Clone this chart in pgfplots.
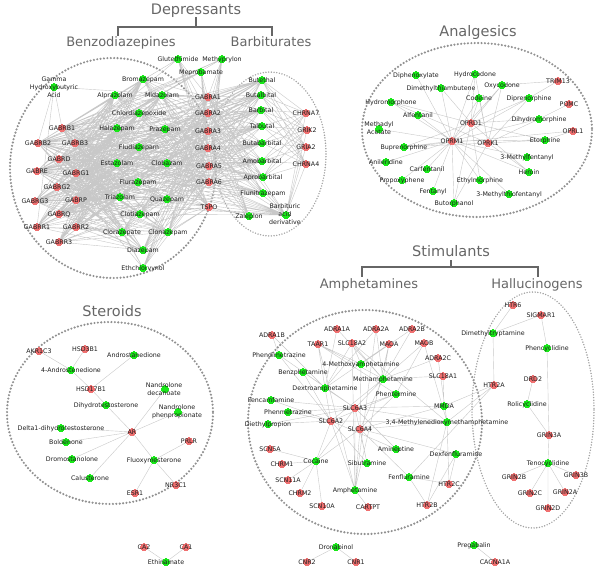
\documentclass[border=0pt]{standalone}
\usepackage{pgfplots}
\pgfplotsset{compat=1.18}
\usepackage{fontspec}
\setmainfont{DejaVu Sans}
\definecolor{ngreen}{RGB}{25,232,25}
\definecolor{nred}{RGB}{240,112,112}
\definecolor{edgec}{RGB}{200,200,200}
\definecolor{ttl}{RGB}{102,102,102}
\definecolor{dotc}{RGB}{145,145,145}

\makeatletter
\gdef\greenpts{}\gdef\redpts{}\gdef\labels{}\gdef\edgelist{}
% \N{id}{x}{y}{g/r}{label}
\newcommand\N[5]{%
 \expandafter\gdef\csname nd@#1\endcsname{#2,#3}%
 \if#4g\xdef\greenpts{\greenpts(#2,#3)}\else\xdef\redpts{\redpts(#2,#3)}\fi
 \g@addto@macro\labels{\node[lbl] at (#2,#3) {#5};}}
% multi-line label: \NM{id}{x}{y}{g/r}{lx}{ly}{label}
\newcommand\NM[7]{%
 \expandafter\gdef\csname nd@#1\endcsname{#2,#3}%
 \if#4g\xdef\greenpts{\greenpts(#2,#3)}\else\xdef\redpts{\redpts(#2,#3)}\fi
 \g@addto@macro\labels{\node[lblm] at (#5,#6) {#7};}}
\newcommand\E[2]{\xdef\edgelist{\edgelist(\csname nd@#1\endcsname)(\csname nd@#2\endcsname)(nan,nan)}}
\newcommand\EE[2]{\foreach\a in {#1}{\foreach\b in {#2}{\E{\a}{\b}}}}
\makeatother

% ---------------- Depressants ----------------
\N{glut}{178}{59}{g}{Glutethimide}
\N{methyp}{222}{59}{g}{Methyprylon}
\N{mepro}{201}{72}{g}{Meprobamate}
\NM{ghb}{54}{87}{g}{54}{87}{Gamma\\Hydroxybutyric\\Acid}
\N{broma}{143}{79}{g}{Bromazepam}
\N{alpra}{115}{95}{g}{Alprazolam}
\N{mida}{162}{95}{g}{Midazolam}
\N{chlord}{139}{113}{g}{Chlordiazepoxide}
\N{ga1}{208}{97}{r}{GABRA1}
\N{ga2}{208}{113}{r}{GABRA2}
\N{gb1}{62}{128}{r}{GABRB1}
\N{hala}{117}{128}{g}{Halazepam}
\N{praz}{165}{129}{g}{Prazepam}
\N{ga3}{208}{131}{r}{GABRA3}
\N{gb2}{38}{143}{r}{GABRB2}
\N{gb3}{75}{143}{r}{GABRB3}
\N{fludi}{139}{147}{g}{Fludiazepam}
\N{ga4}{208}{148}{r}{GABRA4}
\N{gd}{59}{159}{r}{GABRD}
\N{esta}{117}{163}{g}{Estazolam}
\N{clob}{167}{163}{g}{Clobazam}
\N{ga5}{209}{166}{r}{GABRA5}
\N{ge}{37}{171}{r}{GABRE}
\N{gg1}{76}{173}{r}{GABRG1}
\N{ga6}{209}{182}{r}{GABRA6}
\N{flura}{138}{182}{g}{Flurazepam}
\N{gg2}{57}{187}{r}{GABRG2}
\N{gg3}{35}{201}{r}{GABRG3}
\N{gp}{76}{200}{r}{GABRP}
\N{tria}{120}{197}{g}{Triazolam}
\N{quaz}{167}{199}{g}{Quazepam}
\N{tspo}{209}{207}{r}{TSPO}
\N{gq}{59}{214}{r}{GABRQ}
\N{clot}{140}{214}{g}{Clotiazepam}
\N{gr1}{37}{227}{r}{GABRR1}
\N{gr2}{76}{227}{r}{GABRR2}
\N{clorz}{122}{232}{g}{Clorazepate}
\N{clon}{168}{232}{g}{Clonazepam}
\N{gr3}{59}{242}{r}{GABRR3}
\N{diaz}{143}{250}{g}{Diazepam}
\N{ethc}{143}{268}{g}{Ethchlorvynol}
\N{butet}{262}{80}{g}{Butethal}
\N{butal}{261}{95}{g}{Butalbital}
\N{barb}{261}{110}{g}{Barbital}
\N{talb}{262}{126}{g}{Talbutal}
\N{butab}{262}{143}{g}{Butabarbital}
\N{amob}{262}{161}{g}{Amobarbital}
\N{aprob}{263}{177}{g}{Aprobarbital}
\N{fluni}{263}{193}{g}{Flunitrazepam}
\N{zale}{249}{216}{g}{Zaleplon}
\NM{barbac}{286}{215}{g}{285}{214}{Barbituric\\acid\\derivative}
\N{chrna7}{306}{113}{r}{CHRNA7}
\N{grik2}{307}{130}{r}{GRIK2}
\N{gria2}{306}{147}{r}{GRIA2}
\N{chrna4}{306}{164}{r}{CHRNA4}

% ---------------- Analgesics ----------------
\N{diphen}{416}{75}{g}{Diphenoxylate}
\N{hydroc}{475}{74}{g}{Hydrocodone}
\N{dimeth}{441}{88}{g}{Dimethylthiambutene}
\N{oxyc}{502}{85}{g}{Oxycodone}
\N{trim13}{558}{81}{r}{TRIM13}
\N{hydrom}{391}{102}{g}{Hydromorphone}
\N{codeine}{479}{98}{g}{Codeine}
\N{dipren}{529}{98}{g}{Diprenorphine}
\N{pomc}{569}{104}{r}{POMC}
\N{alfent}{418}{115}{g}{Alfentanil}
\N{oprd1}{471}{123}{r}{OPRD1}
\N{dihydro}{539}{119}{g}{Dihydromorphine}
\NM{methad}{379}{129}{g}{379}{128}{Methadyl\\Acetate}
\N{oprl1}{573}{131}{r}{OPRL1}
\N{oprm1}{452}{141}{r}{OPRM1}
\N{oprk1}{488}{143}{r}{OPRK1}
\N{etorph}{545}{140}{g}{Etorphine}
\N{bupren}{404}{147}{g}{Buprenorphine}
\N{mfent}{527}{157}{g}{3-Methylfentanyl}
\N{anile}{386}{162}{g}{Anileridine}
\N{carf}{427}{169}{g}{Carfentanil}
\N{heroin}{529}{172}{g}{Heroin}
\N{propox}{402}{180}{g}{Propoxyphene}
\N{ethylm}{480}{180}{g}{Ethylmorphine}
\N{fent}{433}{191}{g}{Fentanyl}
\N{mtfent}{509}{194}{g}{3-Methylthiofentanyl}
\N{butor}{454}{203}{g}{Butorphanol}

% ---------------- Steroids ----------------
\N{akr}{39}{351}{r}{AKR1C3}
\N{hsd3}{85}{349}{r}{HSD3B1}
\N{andro}{134}{355}{g}{Androstanedione}
\N{andr4}{71}{370}{g}{4-Androstenedione}
\N{hsd17}{91}{389}{r}{HSD17B1}
\NM{nandd}{165}{389}{g}{164}{389}{Nandrolone\\decanoate}
\N{dht}{106}{405}{g}{Dihydrotestosterone}
\NM{nandp}{178}{412}{g}{177}{412}{Nandrolone\\phenpropionate}
\N{delta}{61}{428}{g}{Delta1-dihydrotestosterone}
\N{ar}{132}{432}{r}{AR}
\N{bold}{66}{442}{g}{Boldenone}
\N{prlr}{189}{441}{r}{PRLR}
\N{drom}{72}{459}{g}{Dromostanolone}
\N{fluox}{154}{460}{g}{Fluoxymesterone}
\N{calu}{90}{478}{g}{Calusterone}
\N{nr3c1}{176}{485}{r}{NR3C1}
\N{esr1}{135}{493}{r}{ESR1}

% ---------------- Amphetamines ----------------
\N{adra1b}{272}{335}{r}{ADRA1B}
\N{adra1a}{337}{329}{r}{ADRA1A}
\N{adra2a}{376}{329}{r}{ADRA2A}
\N{adra2b}{412}{329}{r}{ADRA2B}
\N{taar1}{318}{344}{r}{TAAR1}
\N{slc18a2}{352}{343}{r}{SLC18A2}
\N{maoa}{389}{344}{r}{MAOA}
\N{maob}{424}{343}{r}{MAOB}
\N{phendi}{279}{355}{g}{Phendimetrazine}
\N{adra2c}{438}{358}{r}{ADRA2C}
\N{methoxy}{361}{364}{g}{4-Methoxyamphetamine}
\N{benz}{303}{372}{g}{Benzphetamine}
\N{slc18a1}{443}{376}{r}{SLC18A1}
\N{metham}{383}{379}{g}{Methamphetamine}
\N{dextro}{325}{388}{g}{Dextroamphetamine}
\N{phent}{396}{394}{g}{Phentermine}
\N{fenc}{271}{400}{g}{Fencamfamine}
\N{mmda}{444}{406}{g}{MMDA}
\N{phenm}{288}{412}{g}{Phenmetrazine}
\N{slc6a3}{355}{408}{r}{SLC6A3}
\N{diethyl}{268}{424}{g}{Diethylpropion}
\N{slc6a2}{331}{421}{r}{SLC6A2}
\N{mdma}{447}{422}{g}{3,4-Methylenedioxymethamphetamine}
\N{slc6a4}{360}{429}{r}{SLC6A4}
\N{aminep}{396}{449}{g}{Amineptine}
\N{scn5a}{270}{449}{r}{SCN5A}
\N{dexf}{456}{454}{g}{Dexfenfluramine}
\N{cocaine}{316}{461}{g}{Cocaine}
\N{chrm1}{282}{464}{r}{CHRM1}
\N{sibu}{367}{463}{g}{Sibutramine}
\N{fenf}{409}{477}{g}{Fenfluramine}
\N{scn11a}{288}{480}{r}{SCN11A}
\N{htr2c}{449}{484}{r}{HTR2C}
\N{amph}{355}{490}{g}{Amphetamine}
\N{chrm2}{300}{493}{r}{CHRM2}
\N{scn10a}{322}{506}{r}{SCN10A}
\N{cartpt}{368}{507}{r}{CARTPT}
\N{htr2b}{427}{505}{r}{HTR2B}

% ---------------- Hallucinogens ----------------
\N{htr6}{513}{305}{r}{HTR6}
\N{sigmar1}{541}{315}{r}{SIGMAR1}
\N{dmt}{493}{333}{g}{Dimethyltryptamine}
\N{pcp}{547}{348}{g}{Phencyclidine}
\N{drd2}{533}{379}{r}{DRD2}
\N{htr2a}{494}{385}{r}{HTR2A}
\N{roli}{527}{404}{g}{Rolicyclidine}
\N{grin3a}{549}{435}{r}{GRIN3A}
\N{teno}{548}{463}{g}{Tenocyclidine}
\N{grin3b}{576}{475}{r}{GRIN3B}
\N{grin2b}{514}{477}{r}{GRIN2B}
\N{grin2a}{565}{492}{r}{GRIN2A}
\N{grin2c}{530}{493}{r}{GRIN2C}
\N{grin2d}{548}{508}{r}{GRIN2D}

% ---------------- Bottom ----------------
\N{ca2}{144}{547}{r}{CA2}
\N{ca1}{186}{547}{r}{CA1}
\N{ethin}{166}{562}{g}{Ethinamate}
\N{drona}{336}{547}{g}{Dronabinol}
\N{cnr2}{307}{562}{r}{CNR2}
\N{cnr1}{356}{562}{r}{CNR1}
\N{prega}{474}{545}{g}{Pregabalin}
\N{cacna}{495}{562}{r}{CACNA1A}

% ---------------- Edges ----------------
\EE{broma,alpra,mida,chlord,hala,praz,fludi,esta,clob,flura,tria,quaz,clot,clorz,clon,diaz}{ga1,ga2,ga3,ga4,ga5,ga6,gb1,gb2,gb3,gd,ge,gg1,gg2,gg3,gp,gq,gr1,gr2,gr3,tspo}
\EE{glut,methyp,mepro,ethc}{ga1,ga2,ga3,ga4,ga5,ga6,gb1,gb2,gb3}
\EE{ghb}{gb1,gb2,ga1,gr1}
\EE{butet,butal,barb,talb,butab,amob,aprob,fluni,barbac}{ga1,ga2,ga3,ga4,ga5,ga6,gb1,gb2,gb3,gd,ge,gg1,gg2,gg3,gp,gq}
\EE{butet,butal,barb,talb,butab,amob,aprob,barbac}{chrna7,grik2,gria2,chrna4}
\EE{zale}{ga1,ga2,ga3,ga4,ga5,ga6,tspo}
\EE{diphen,dimeth,alfent,methad,anile,carf,propox,fent,mfent,mtfent,ethylm}{oprm1}
\EE{codeine,oxyc,dipren,dihydro,etorph,bupren,heroin,butor,hydrom,hydroc}{oprm1,oprd1,oprk1}
\E{ethylm}{oprd1}\E{dimeth}{oprd1}\E{trim13}{dipren}\E{trim13}{oxyc}
\E{pomc}{dihydro}\E{oprl1}{etorph}\E{oprl1}{bupren}
\E{akr}{andr4}\E{hsd3}{andr4}\E{andr4}{hsd17}\E{andro}{hsd17}\E{hsd17}{dht}
\EE{ar}{dht,nandd,nandp,delta,bold,drom,calu,fluox}
\EE{fluox}{prlr,nr3c1,esr1}
\E{ca2}{ethin}\E{ca1}{ethin}\E{drona}{cnr2}\E{drona}{cnr1}\E{prega}{cacna}
\EE{metham}{slc6a2,slc6a3,slc6a4,slc18a2,taar1,maoa,maob,adra2a,adra2b,adra2c,adra1a,slc18a1}
\EE{dextro}{slc6a2,slc6a3,slc18a2,taar1,maoa,adra1a,adra1b,adra2a}
\EE{amph}{slc6a2,slc6a3,slc6a4,slc18a2,taar1,cartpt,maoa,adra2a}
\EE{methoxy}{slc6a4,slc18a2,maoa,taar1,adra2b}
\EE{phendi,benz,fenc,phenm,diethyl,sibu,aminep}{slc6a2,slc6a3}
\E{sibu}{slc6a4}\E{phendi}{adra1b}
\EE{phent}{slc6a2,slc6a3,slc6a4,taar1,maob}
\EE{mmda}{slc6a4,slc18a1,htr2a,slc6a3}
\EE{mdma}{slc6a2,slc6a3,slc6a4,htr2a,htr2c,htr2b,slc18a2,maob,adra2c}
\EE{dexf}{slc6a4,htr2c,htr2b}
\EE{fenf}{slc6a4,htr2c,htr2b,htr2a}
\EE{cocaine}{slc6a2,slc6a3,slc6a4,scn5a,chrm1,scn11a,chrm2,scn10a}
\EE{dmt}{sigmar1,htr2a,htr6}
\EE{pcp}{sigmar1,grin3a}
\EE{roli}{drd2,grin3a}
\EE{teno}{grin3a,grin3b,grin2a,grin2b,grin2c,grin2d}

\begin{document}
\begin{tikzpicture}[
  lbl/.style={font=\fontsize{6.3}{8}\selectfont, text=black!88, inner sep=0pt, anchor=base, yshift=-2.3pt},
  lblm/.style={font=\fontsize{6.3}{8}\selectfont, text=black!88, inner sep=0pt, anchor=center, align=center},
  ttlA/.style={font=\fontsize{14.5}{16}\selectfont, text=ttl, anchor=base, inner sep=0pt},
  ttlB/.style={font=\fontsize{13}{15}\selectfont, text=ttl, anchor=base, inner sep=0pt},
  thickdot/.style={dotc, line width=2.4pt, line cap=round, dash pattern=on 0pt off 3.4pt},
  thindot/.style={dotc!85, line width=1.6pt, line cap=round, dash pattern=on 0pt off 2.7pt},
  brk/.style={ttl, line width=1.4pt}]
\begin{axis}[
  scale only axis, width=600pt, height=570pt,
  xmin=0, xmax=600, ymin=0, ymax=570, y dir=reverse,
  hide axis, clip=false]
% group ellipses
\draw[thickdot] (axis cs:113,168) ellipse [x radius=103, y radius=110];
\draw[thindot] (axis cs:270,154) ellipse [x radius=56, y radius=82];
\draw[thickdot] (axis cs:477,130) ellipse [x radius=115, y radius=87];
\draw[thickdot] (axis cs:110,413) ellipse [x radius=103, y radius=91];
\draw[thickdot] (axis cs:365,422) ellipse [x radius=117, y radius=112];
\draw[thindot] (axis cs:533,410) ellipse [x radius=61, y radius=118];
% edges
\edef\tmp{\noexpand\addplot[color=edgec, line width=0.4pt, unbounded coords=jump, mark=none, forget plot] coordinates {\edgelist};}\tmp
% nodes
\edef\tmp{\noexpand\addplot[color=ngreen, only marks, mark=*, mark size=3.6pt, mark options={draw=ngreen, fill=ngreen, line width=0pt}, forget plot] coordinates {\greenpts};}\tmp
\edef\tmp{\noexpand\addplot[color=nred, only marks, mark=*, mark size=3.6pt, mark options={draw=nred, fill=nred, line width=0pt}, forget plot] coordinates {\redpts};}\tmp
\end{axis}
% labels and titles on top (1 axis unit = 1pt, origin at top left)
\begin{scope}[shift={(current axis.north west)}, x=1pt, y=-1pt]
\labels
\node[ttlA] at (196,15) {Depressants};
\draw[brk] (118,36) -- (118,27) -- (272,27) -- (272,36);
\draw[brk] (196,27) -- (196,17);
\node[ttlB] at (121,47) {Benzodiazepines};
\node[ttlB] at (271,47) {Barbiturates};
\node[ttlA] at (478,37) {Analgesics};
\node[ttlA] at (112,317) {Steroids};
\node[ttlA] at (451,257) {Stimulants};
\draw[brk] (362,277) -- (362,267) -- (538,267) -- (538,277);
\draw[brk] (451,267) -- (451,260);
\node[ttlB] at (369,289) {Amphetamines};
\node[ttlB] at (537,289) {Hallucinogens};
\end{scope}
\pgfresetboundingbox
\path (current axis.south west) rectangle (current axis.north east);
\end{tikzpicture}
\end{document}
